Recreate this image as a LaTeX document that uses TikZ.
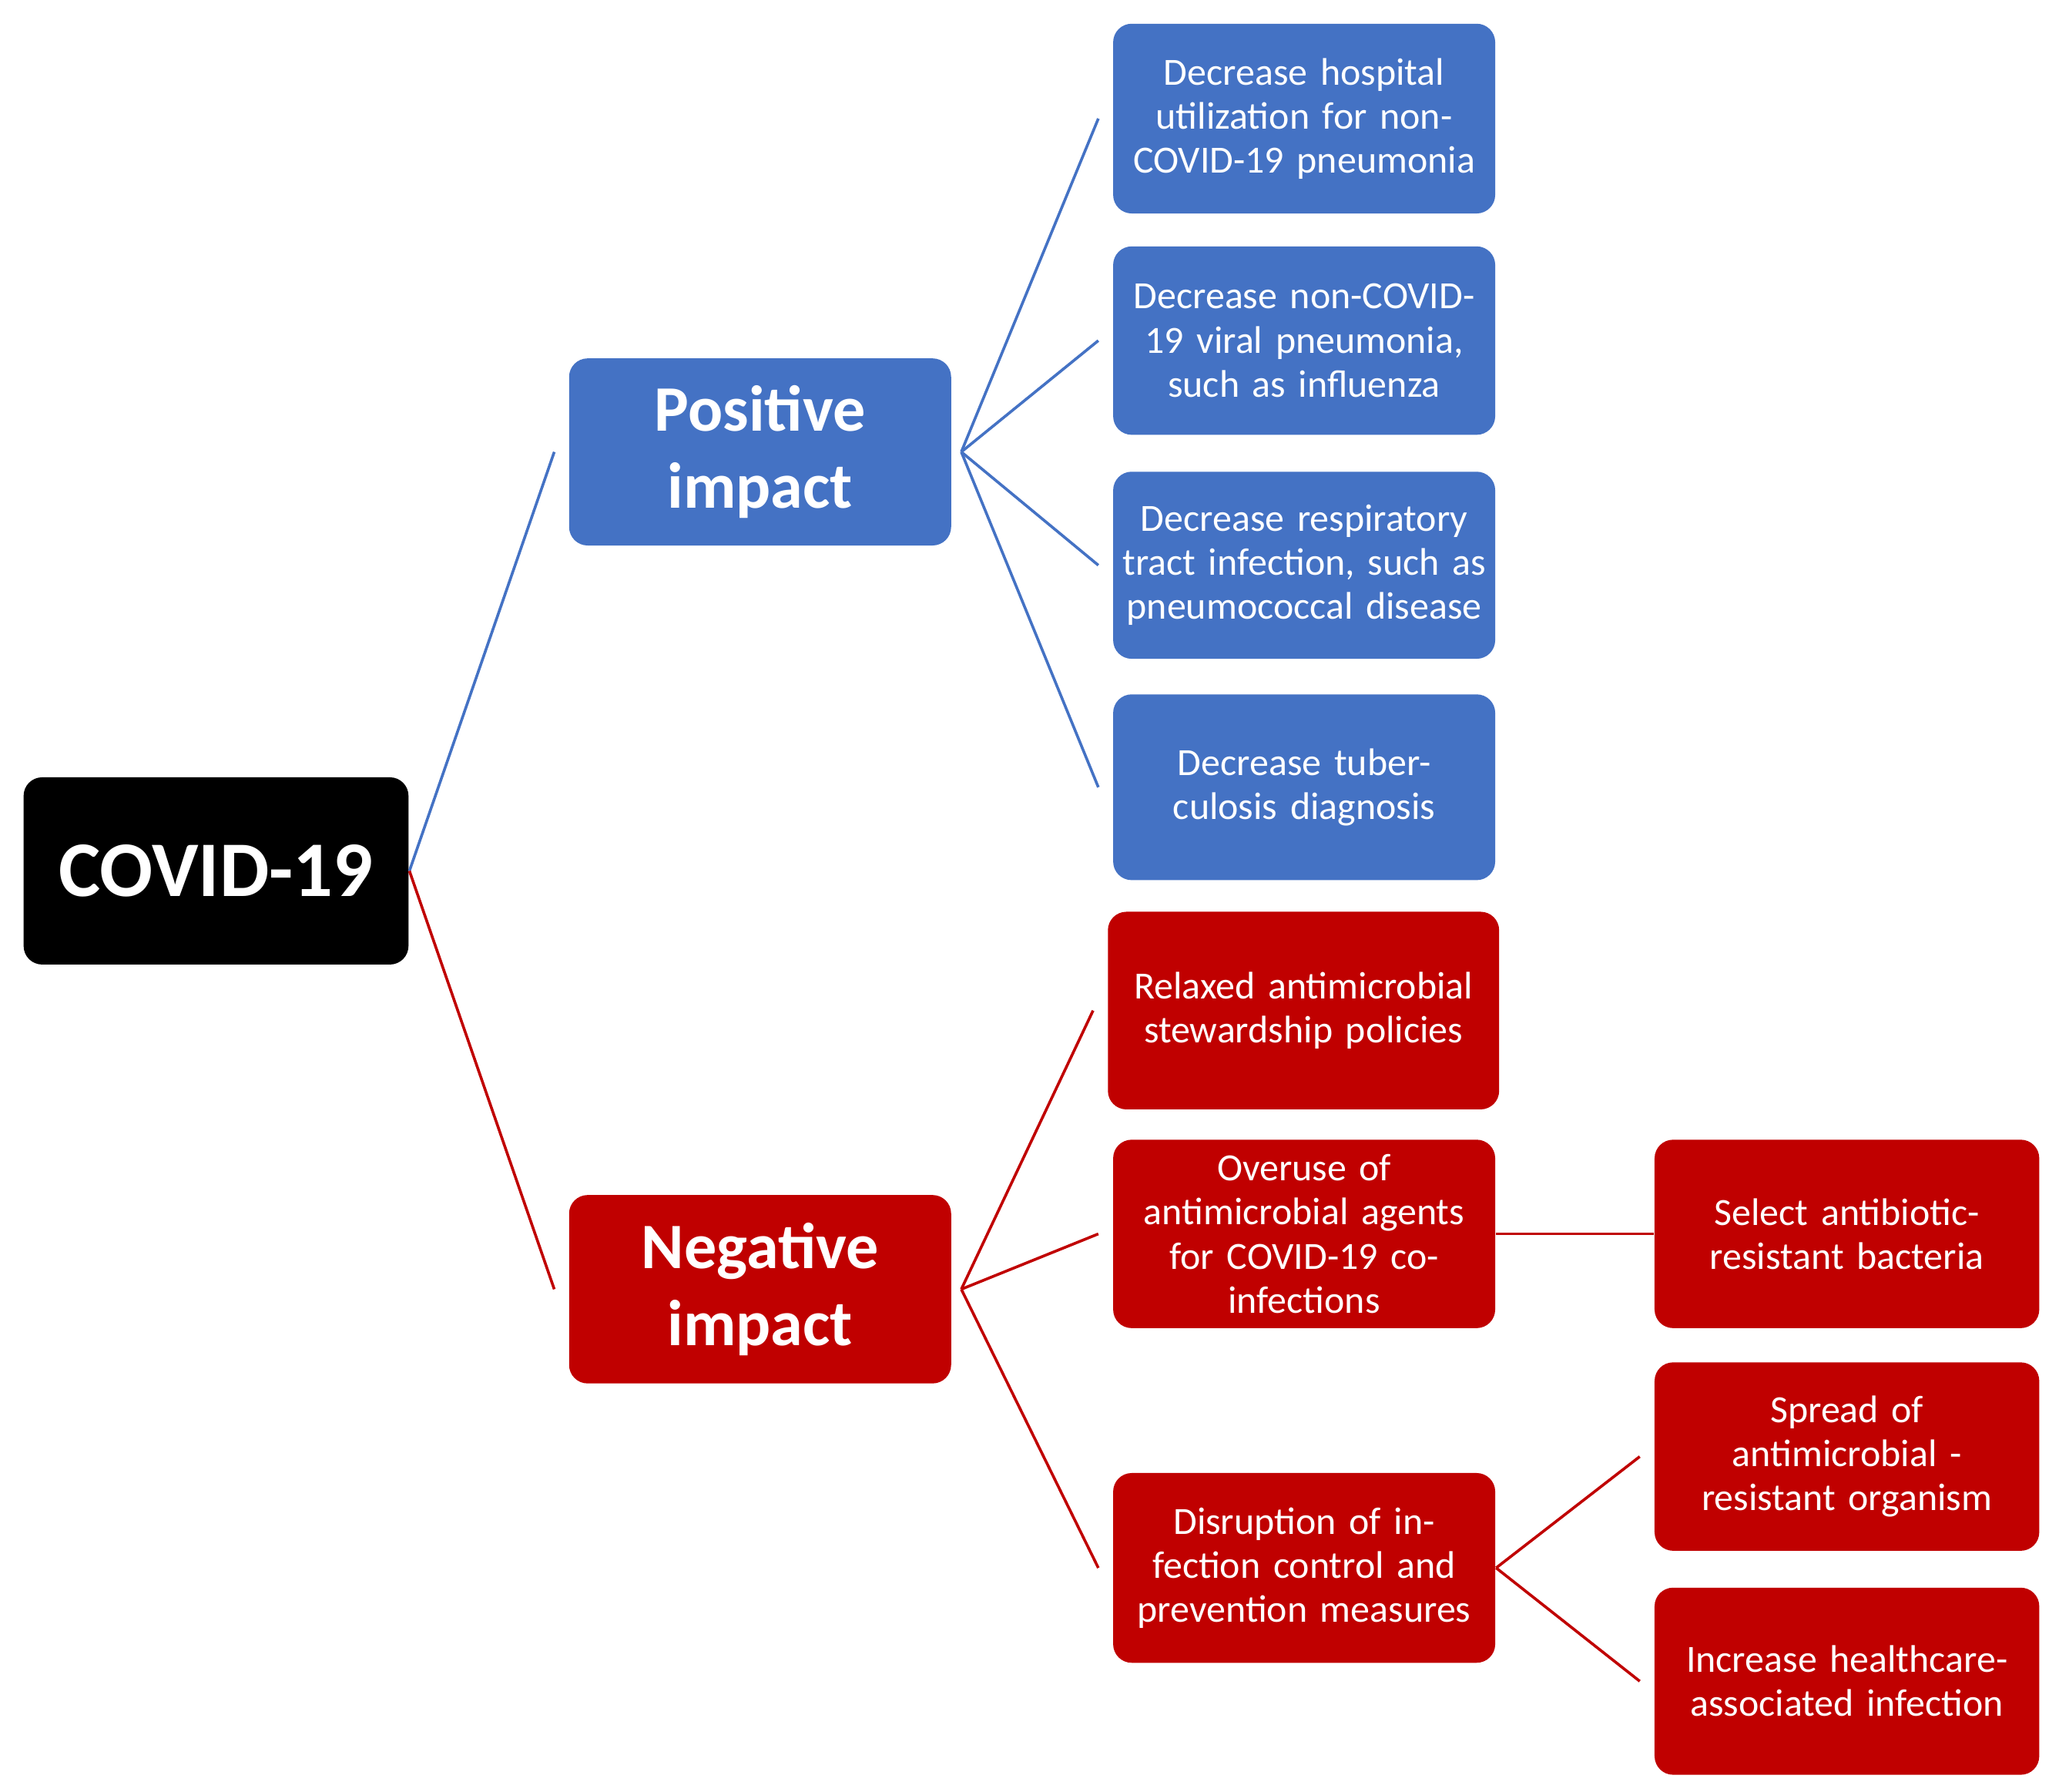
\documentclass[tikz,border=0pt]{standalone}
\usepackage{fontspec}
\setmainfont{Carlito}
\definecolor{bl}{HTML}{4472C4}
\definecolor{rd}{HTML}{C00000}
\begin{document}
\begin{tikzpicture}[x=0.01cm,y=-0.01cm,
 box/.style={rounded corners=4pt,text=white,align=center,inner sep=1pt,font=\fontsize{8.3}{9.5}\selectfont},
 b/.style={box,fill=bl}, r/.style={box,fill=rd},
 big/.style={font=\fontsize{14}{16.5}\selectfont\bfseries},
 bl/.style={draw=bl,line width=0.6pt}, rl/.style={draw=rd,line width=0.6pt}]
\useasboundingbox (0,0) rectangle (1563,1360);
\def\bx#1#2#3#4#5#6#7{\node[#1,minimum width=#4*0.01cm-#3*0.01cm,minimum height=#6*0.01cm-#5*0.01cm,text width=#4*0.01cm-#3*0.01cm-4pt] (#2) at ({(#3+#4)/2},{(#5+#6)/2}) {#7};}
\node[box,fill=black,minimum width=2.92cm,minimum height=1.42cm,font=\fontsize{17}{20}\selectfont\bfseries] (c) at (164,661) {COVID-19};
\bx{b,big}{p}{432}{722}{272}{414}{Positive\\impact}
\bx{r,big}{n}{432}{722}{907}{1050}{Negative\\impact}
\bx{b}{b1}{845}{1135}{18}{162}{Decrease hospital utilization for non-COVID-19 pneumonia}
\bx{b}{b2}{845}{1135}{187}{330}{Decrease non-COVID-19 viral pneumonia, such as influenza}
\bx{b}{b3}{845}{1135}{358}{500}{Decrease respiratory tract infection, such as pneumococcal disease}
\bx{b}{b4}{845}{1135}{527}{668}{Decrease tuberculosis diagnosis}
\bx{r}{r1}{841}{1138}{692}{842}{Relaxed antimicrobial stewardship policies}
\bx{r}{r2}{845}{1135}{865}{1008}{Overuse of\\antimicrobial agents for COVID-19 co-\\infections}
\bx{r}{r3}{845}{1135}{1118}{1262}{Disruption of infection control and prevention measures}
\bx{r}{s1}{1256}{1548}{865}{1008}{Select antibiotic-\\resistant bacteria}
\bx{r}{s2}{1256}{1548}{1034}{1177}{Spread of\\antimicrobial -\\resistant organism}
\bx{r}{s3}{1256}{1548}{1205}{1347}{Increase healthcare-\\associated infection}
\draw[bl] (c.east) -- ([xshift=-3pt]p.west);
\draw[rl] (c.east) -- ([xshift=-3pt]n.west);
\foreach \t in {b1,b2,b3,b4} \draw[bl] ([xshift=2pt]p.east) -- ([xshift=-3pt]\t.west);
\foreach \t in {r1,r2,r3} \draw[rl] ([xshift=2pt]n.east) -- ([xshift=-3pt]\t.west);
\draw[rl] (r2.east) -- (s1.west);
\draw[rl] (r3.east) -- ([xshift=-3pt]s2.west);
\draw[rl] (r3.east) -- ([xshift=-3pt]s3.west);
\end{tikzpicture}
\end{document}
